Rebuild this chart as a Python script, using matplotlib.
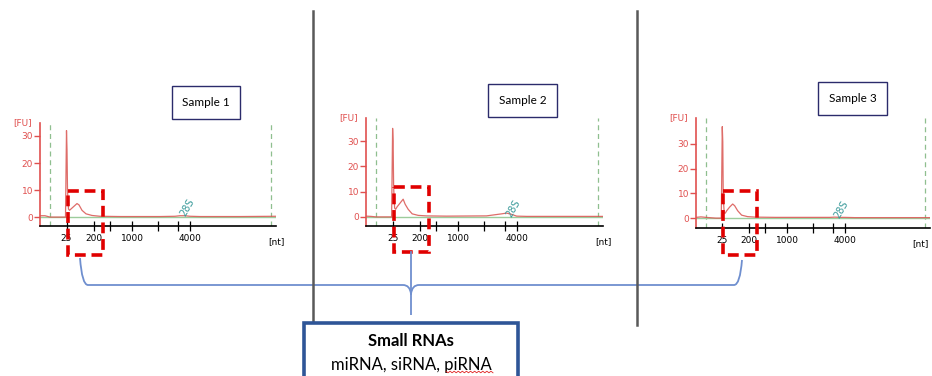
import numpy as np
import matplotlib
matplotlib.use("Agg")
import matplotlib.pyplot as plt
from matplotlib.patches import Rectangle, PathPatch
from matplotlib.path import Path

# electropherogram traces (x = migration units, fu = fluorescence)
mig = [0, 5, 10, 20, 25.5, 26.5, 27, 27.5, 28.5, 29.5, 31, 34, 37, 39, 42, 46,
       52, 60, 80, 120, 135, 140, 145, 150, 160, 200, 236]
fu_s1 = [0.5, 0.5, 0, 0, 0, 32, 25, 10, 3, 2.5, 3, 4, 5, 4.5, 2.5, 1.2,
         0.6, 0.3, 0.2, 0.2, 0.3, 0.5, 0.5, 0.3, 0.2, 0.2, 0.3]
fu_s2 = [0.3, 0.2, 0, 0, 0, 35, 30, 12, 3.5, 3, 4, 5.5, 7, 5, 3, 1.2,
         0.6, 0.4, 0.3, 0.4, 1.2, 1.5, 1, 0.3, 0.2, 0.2, 0.2]
fu_s3 = [0.3, 0.5, 0.3, 0, 0, 37, 31, 8, 2, 2, 3, 4.5, 5.7, 5, 3, 1.2,
         0.6, 0.4, 0.3, 0.3, 0.3, 0.4, 0.3, 0.3, 0.2, 0.2, 0.2]
samples = ["Sample 1", "Sample 2", "Sample 3"]

# ladder sizes and their migration positions
ladder_pos = [26.5, 53.5, 70, 92, 118, 138, 150]
ladder_lbl = ["25", "200", "", "1000", "", "", "4000"]
fu_ticks = [0, 10, 20, 30]
marker_pos = [10, 231]

W, H = 932, 376
fig = plt.figure(figsize=(W / 100, H / 100), dpi=100)


def rect(left, top, right, bottom):
    return [left / W, 1 - bottom / H, (right - left) / W, (bottom - top) / H]


red = "#e0504f"
panels = [
    (fu_s1, (40, 123, 276, 226), (-3.3, 34.8), 0),
    (fu_s2, (366, 118, 603, 226), (-3.6, 39.1), 0),
    (fu_s3, (696, 118, 930, 228), (-4.0, 40.5), -10),
]

for fu, box, ylim, nt_shift in panels:
    ax = fig.add_axes(rect(*box))
    ax.set_xlim(0, 236)
    ax.set_ylim(*ylim)
    for xm in marker_pos:
        ax.axvline(xm, color="#8fbf8f", ls=(0, (4, 3)), lw=0.9)
    ax.axhline(0, color="#9ccc9c", lw=1.0)
    ax.plot(mig, fu, color="#d9534f", lw=0.9, alpha=0.85)
    ax.text(147, 3.5, "28S", color="#3a9a9a", fontsize=7, rotation=60,
            ha="center", va="center")
    for s in ["top", "right"]:
        ax.spines[s].set_visible(False)
    ax.spines["left"].set_color(red)
    ax.spines["left"].set_linewidth(1.2)
    ax.spines["bottom"].set_linewidth(1.2)
    ax.set_xticks(ladder_pos)
    ax.set_xticklabels(ladder_lbl)
    ax.set_yticks(fu_ticks)
    ax.tick_params(axis="x", direction="inout", length=7, width=0.9,
                   labelsize=6.5, pad=2)
    ax.tick_params(axis="y", direction="out", length=4, width=1.0,
                   colors=red, labelsize=6.5, pad=1)
    ax.annotate("[FU]", xy=(0, 1), xycoords="axes fraction", xytext=(-8, 0),
                textcoords="offset pixels", ha="right", va="center",
                color=red, fontsize=6.5)
    ax.annotate("[nt]", xy=(1, 0), xycoords="axes fraction",
                xytext=(nt_shift, -16), textcoords="offset pixels",
                ha="center", va="center", fontsize=6.5)
    ax.patch.set_alpha(0)

# overlay in pixel coordinates
ov = fig.add_axes([0, 0, 1, 1])
ov.set_xlim(0, W)
ov.set_ylim(H, 0)
ov.axis("off")
ov.patch.set_alpha(0)

ov.plot([313, 313], [11, 376], color="#595959", lw=1.8)
ov.plot([637, 637], [11, 325], color="#595959", lw=1.8)

sample_boxes = [(172, 86, 240, 119), (488, 84, 557, 117), (818, 82, 887, 115)]
for name, (l, t, r, b) in zip(samples, sample_boxes):
    ov.add_patch(Rectangle((l, t), r - l, b - t, fill=False,
                           ec="#2b2b6b", lw=1.0))
    ov.text((l + r) / 2, (t + b) / 2, name, ha="center", va="center",
            fontsize=8.5, family="Lato")

zoom_boxes = [(68, 191, 103, 255), (394, 187, 429, 252), (723, 191, 757, 255)]
for l, t, r, b in zoom_boxes:
    ov.add_patch(Rectangle((l, t), r - l, b - t, fill=False, ec="#e00000",
                           lw=2.6, ls=(0, (3, 1.6))))

# curly bracket
blue = "#6f8fcf"
left_arm = Path([(80, 258), (82, 285), (88, 285), (403, 285), (410, 285),
                 (411, 294), (411, 315)],
                [Path.MOVETO, Path.CURVE3, Path.CURVE3, Path.LINETO,
                 Path.CURVE3, Path.CURVE3, Path.LINETO])
right_arm = Path([(742, 260), (740, 285), (734, 285), (419, 285), (412, 285),
                  (411, 294)],
                 [Path.MOVETO, Path.CURVE3, Path.CURVE3, Path.LINETO,
                  Path.CURVE3, Path.CURVE3])
for p in (left_arm, right_arm):
    ov.add_patch(PathPatch(p, fill=False, ec=blue, lw=1.3))
ov.plot([411, 411], [252, 294], color=blue, lw=1.3)

# summary box
ov.add_patch(Rectangle((304, 323), 214, 60, fc="white", ec="#2e5597",
                       lw=2.6, zorder=5))
ov.text(411, 341, "Small RNAs", ha="center", va="center", fontsize=12,
        fontweight="bold", family="Lato", zorder=6)
ov.text(411, 365, "miRNA, siRNA, piRNA", ha="center", va="center",
        fontsize=12, family="Lato", zorder=6)
sq_x = np.linspace(446, 493, 24)
sq_y = 372 + np.where(np.arange(24) % 2 == 0, -0.8, 0.8)
ov.plot(sq_x, sq_y, color="#e02020", lw=0.6, zorder=6)

fig.savefig("out.png", dpi=100)
